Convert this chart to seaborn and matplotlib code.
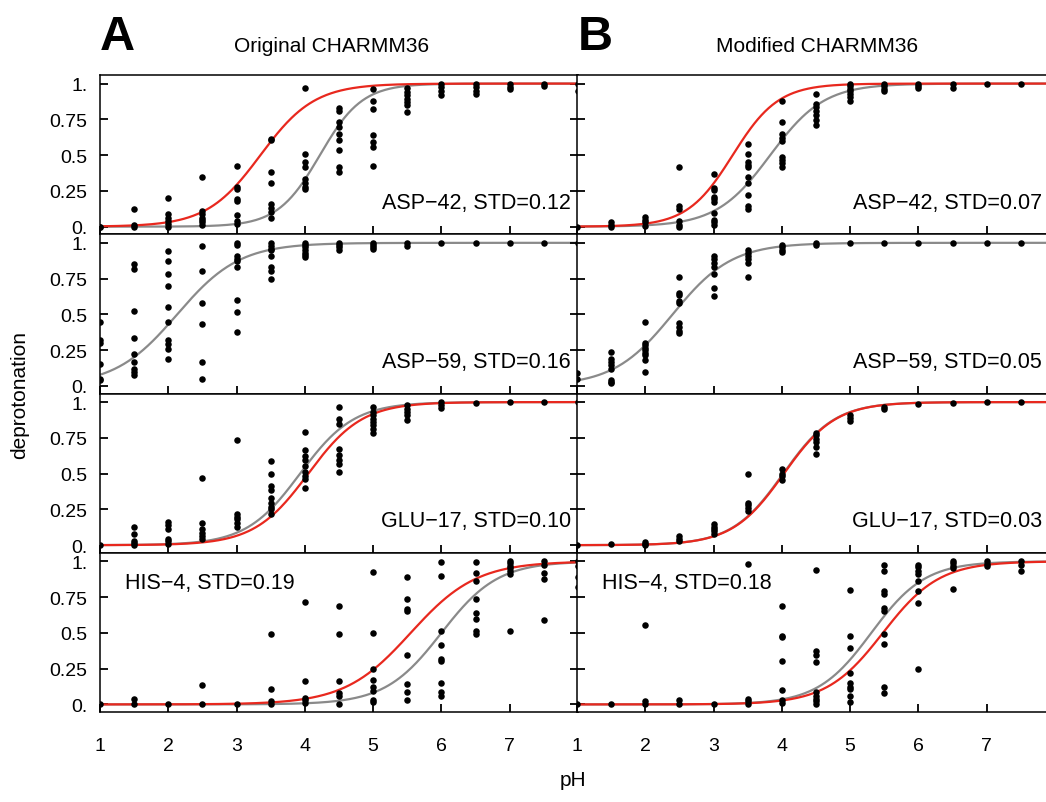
import numpy as np
import pandas as pd
import matplotlib
matplotlib.use("Agg")
import matplotlib.pyplot as plt
import seaborn as sns

# pH values sampled by the constant-pH replicas
ph_levels = [1.0, 1.5, 2.0, 2.5, 3.0, 3.5, 4.0, 4.5, 5.0, 5.5, 6.0, 6.5, 7.0, 7.5, 8.0]

# Per-replica deprotonation fractions, one inner list per pH level
asp42_orig = [
    [0.0, 0.0], [0.12, 0.01, 0.0], [0.20, 0.09, 0.06, 0.04, 0.02, 0.0],
    [0.35, 0.11, 0.09, 0.06, 0.045, 0.03, 0.01],
    [0.425, 0.28, 0.265, 0.195, 0.18, 0.085, 0.04, 0.02],
    [0.615, 0.605, 0.385, 0.305, 0.155, 0.13, 0.10, 0.06],
    [0.97, 0.51, 0.45, 0.42, 0.33, 0.305, 0.28, 0.26],
    [0.83, 0.81, 0.73, 0.70, 0.65, 0.605, 0.535, 0.415, 0.385],
    [0.96, 0.88, 0.82, 0.64, 0.59, 0.555, 0.425],
    [0.97, 0.94, 0.92, 0.895, 0.87, 0.85, 0.80],
    [1.0, 0.975, 0.95, 0.92], [1.0, 0.975, 0.95, 0.93],
    [1.0, 0.975, 0.965], [1.0, 0.985], [1.0, 0.95],
]
asp42_mod = [
    [0.0], [0.03, 0.01, 0.0], [0.07, 0.05, 0.03, 0.005],
    [0.415, 0.145, 0.12, 0.04, 0.015, 0.0],
    [0.367, 0.27, 0.255, 0.21, 0.19, 0.17, 0.097, 0.05, 0.03, 0.015],
    [0.58, 0.51, 0.455, 0.43, 0.415, 0.35, 0.305, 0.22, 0.145, 0.125],
    [0.875, 0.73, 0.645, 0.62, 0.60, 0.49, 0.465, 0.445, 0.415],
    [0.93, 0.86, 0.835, 0.81, 0.78, 0.745, 0.71],
    [1.0, 0.98, 0.96, 0.945, 0.93, 0.905, 0.88],
    [1.0, 0.98, 0.965, 0.945], [1.0, 0.98, 0.97], [1.0, 0.97],
    [1.0], [1.0], [],
]
asp59_orig = [
    [0.45, 0.32, 0.30, 0.155, 0.05, 0.04],
    [0.85, 0.82, 0.525, 0.335, 0.22, 0.17, 0.115, 0.097, 0.076],
    [0.945, 0.87, 0.785, 0.695, 0.55, 0.45, 0.32, 0.29, 0.255, 0.185],
    [0.98, 0.80, 0.58, 0.43, 0.165, 0.05],
    [1.0, 0.985, 0.905, 0.89, 0.87, 0.83, 0.60, 0.515, 0.38],
    [1.0, 0.98, 0.96, 0.95, 0.905, 0.83, 0.80, 0.75],
    [1.0, 0.985, 0.97, 0.95, 0.93, 0.915, 0.90],
    [1.0, 0.985, 0.97, 0.95], [1.0, 0.985, 0.97, 0.955], [1.0, 0.975],
    [1.0], [1.0], [1.0], [1.0], [1.0],
]
asp59_mod = [
    [0.09, 0.05],
    [0.237, 0.19, 0.17, 0.145, 0.12, 0.04, 0.03, 0.02],
    [0.45, 0.30, 0.283, 0.267, 0.25, 0.23, 0.215, 0.18, 0.095],
    [0.763, 0.65, 0.633, 0.595, 0.58, 0.44, 0.41, 0.385, 0.37],
    [0.905, 0.885, 0.86, 0.83, 0.78, 0.687, 0.625],
    [0.95, 0.93, 0.905, 0.885, 0.86, 0.76],
    [0.985, 0.97, 0.95, 0.935], [1.0, 0.985],
    [1.0], [1.0], [1.0], [1.0], [1.0], [1.0], [],
]
glu17_orig = [
    [0.0], [0.125, 0.075, 0.032, 0.016, 0.0],
    [0.16, 0.14, 0.115, 0.046, 0.028, 0.01],
    [0.47, 0.155, 0.11, 0.085, 0.062, 0.04],
    [0.735, 0.22, 0.195, 0.18, 0.155, 0.13],
    [0.59, 0.50, 0.415, 0.387, 0.333, 0.294, 0.27, 0.25, 0.218],
    [0.79, 0.665, 0.62, 0.595, 0.555, 0.514, 0.486, 0.463, 0.40],
    [0.965, 0.885, 0.85, 0.67, 0.63, 0.595, 0.57, 0.51],
    [0.965, 0.93, 0.907, 0.885, 0.86, 0.84, 0.815, 0.785],
    [0.977, 0.955, 0.93, 0.907, 0.873],
    [1.0, 0.977, 0.96], [0.995], [1.0], [1.0], [1.0],
]
glu17_mod = [
    [0.0], [0.005], [0.023, 0.01, 0.0], [0.062, 0.046, 0.028],
    [0.148, 0.13, 0.115, 0.097, 0.08],
    [0.50, 0.294, 0.278, 0.26, 0.24],
    [0.532, 0.50, 0.48, 0.456],
    [0.787, 0.77, 0.745, 0.722, 0.687, 0.64],
    [0.907, 0.89, 0.868], [0.965, 0.95], [0.99], [0.995], [1.0], [1.0], [],
]
his4_orig = [
    [0.0], [0.04, 0.0], [0.0], [0.137, 0.005], [0.005],
    [0.49, 0.11, 0.023, 0.005],
    [0.715, 0.167, 0.046, 0.028, 0.01],
    [0.685, 0.49, 0.167, 0.08, 0.062, 0.005],
    [0.925, 0.50, 0.25, 0.17, 0.12, 0.097, 0.032, 0.016],
    [0.89, 0.735, 0.665, 0.653, 0.345, 0.14, 0.085, 0.032],
    [0.995, 0.895, 0.51, 0.417, 0.317, 0.305, 0.148, 0.085, 0.062],
    [0.995, 0.92, 0.866, 0.735, 0.64, 0.595, 0.514, 0.495],
    [1.0, 0.985, 0.97, 0.955, 0.935, 0.912, 0.51],
    [1.0, 0.977, 0.92, 0.875, 0.59],
    [1.0, 0.965, 0.89, 0.82],
]
his4_mod = [
    [0.0], [0.0], [0.555, 0.023, 0.005], [0.032, 0.005], [0.005],
    [0.984, 0.04, 0.023, 0.005],
    [0.687, 0.48, 0.468, 0.305, 0.10, 0.032, 0.01],
    [0.942, 0.37, 0.347, 0.294, 0.085, 0.062, 0.04, 0.023, 0.005],
    [0.803, 0.48, 0.393, 0.22, 0.148, 0.125, 0.11, 0.062, 0.016],
    [0.977, 0.935, 0.79, 0.775, 0.676, 0.653, 0.49, 0.42, 0.12, 0.08],
    [0.977, 0.96, 0.935, 0.912, 0.866, 0.796, 0.71, 0.25],
    [1.0, 0.99, 0.965, 0.95, 0.81],
    [1.0, 0.98, 0.965], [1.0, 0.977, 0.935], [],
]

residues = ["ASP−42", "ASP−59", "GLU−17", "HIS−4"]
std_orig = [0.12, 0.16, 0.10, 0.19]
std_mod = [0.07, 0.05, 0.03, 0.18]

# Henderson-Hasselbalch parameters (pKa, Hill coefficient); NaN = no curve
pka_red_orig = [3.35, np.nan, 4.05, 5.55]
hill_red_orig = [1.1, np.nan, 1.1, 0.9]
pka_grey_orig = [4.22, 2.13, 3.93, 6.00]
hill_grey_orig = [1.4, 0.95, 1.1, 1.05]
pka_red_mod = [3.28, np.nan, 4.03, 5.48]
hill_red_mod = [1.3, np.nan, 1.15, 1.05]
pka_grey_mod = [3.83, 2.40, 4.02, 5.31]
hill_grey_mod = [1.1, 1.0, 1.15, 1.1]

ytick_vals = [0.0, 0.25, 0.5, 0.75, 1.0]
ytick_labels = ["0.", "0.25", "0.5", "0.75", "1."]
xtick_vals = [1, 2, 3, 4, 5, 6, 7]

RED = "#e8281e"
GREY = "#8a8a8a"

sns.set_style("ticks")
plt.rcParams["font.family"] = ["Liberation Sans", "DejaVu Sans"]
plt.rcParams["axes.linewidth"] = 1.1
plt.rcParams["axes.axisbelow"] = False
plt.rcParams["xtick.direction"] = "in"
plt.rcParams["ytick.direction"] = "in"
for key in ["text.color", "axes.labelcolor", "xtick.color", "ytick.color", "axes.edgecolor"]:
    plt.rcParams[key] = "black"

TICK_LEN = 6.0
TICK_W = 1.3


def points_frame(values):
    rows = [(ph, v) for ph, vals in zip(ph_levels, values) for v in vals]
    return pd.DataFrame(rows, columns=["pH", "deprotonation"])


def hh_frame(pka, hill):
    ph = np.linspace(1.0, 8.0, 400)
    frac = 1.0 / (1.0 + 10.0 ** (hill * (pka - ph)))
    return pd.DataFrame({"pH": ph, "frac": frac})


fig = plt.figure(figsize=(10.46, 8.03), dpi=100)

W, H = 1046.0, 803.0
top_px, row_px = 76.0, 159.25
col_left_px = [100.0, 577.0]
col_w_px = 478.0

columns = [
    dict(points=[asp42_orig, asp59_orig, glu17_orig, his4_orig], std=std_orig,
         red=(pka_red_orig, hill_red_orig), grey=(pka_grey_orig, hill_grey_orig),
         label_x=0.985),
    dict(points=[asp42_mod, asp59_mod, glu17_mod, his4_mod], std=std_mod,
         red=(pka_red_mod, hill_red_mod), grey=(pka_grey_mod, hill_grey_mod),
         label_x=0.973),
]

for c, col in enumerate(columns):
    for r in range(4):
        bottom_px = top_px + (r + 1) * row_px
        ax = fig.add_axes([col_left_px[c] / W, (H - bottom_px) / H,
                           col_w_px / W, row_px / H])
        grey_pka, grey_n = col["grey"][0][r], col["grey"][1][r]
        red_pka, red_n = col["red"][0][r], col["red"][1][r]
        if not np.isnan(grey_pka):
            sns.lineplot(data=hh_frame(grey_pka, grey_n), x="pH", y="frac", ax=ax,
                         color=GREY, linewidth=1.6, zorder=2)
        if not np.isnan(red_pka):
            sns.lineplot(data=hh_frame(red_pka, red_n), x="pH", y="frac", ax=ax,
                         color=RED, linewidth=1.6, zorder=3)
        sns.scatterplot(data=points_frame(col["points"][r]), x="pH", y="deprotonation",
                        ax=ax, color="black", s=22, linewidth=0, zorder=4)

        ax.set_xlim(1.0, 8.0)
        ax.set_ylim(-0.053, 1.06)
        ax.set_xlabel("")
        ax.set_ylabel("")
        ax.set_xticks(xtick_vals)
        ax.set_yticks(ytick_vals)
        ax.set_xticklabels([str(v) for v in xtick_vals] if r == 3 else [])
        ax.set_yticklabels(ytick_labels if c == 0 else [])
        ax.xaxis.set_tick_params(which="major", direction="in", length=TICK_LEN,
                                 width=TICK_W, color="black", labelsize=14, pad=18,
                                 bottom=True, top=False, labeltop=False)
        ax.yaxis.set_tick_params(which="major", direction="in", length=TICK_LEN,
                                 width=TICK_W, color="black", labelsize=14, pad=9,
                                 left=True, right=True, labelright=False)
        for sp in ax.spines.values():
            sp.set_visible(True)
            sp.set_color("black")
            sp.set_linewidth(1.1)

        label = f"{residues[r]}, STD={col['std'][r]:.2f}"
        if residues[r].startswith("HIS"):
            ax.text(1.37, 0.85, label, ha="left", va="center", fontsize=15.5)
        else:
            ax.text(col["label_x"], 0.17, label, ha="right", va="center",
                    fontsize=15.5, transform=ax.get_yaxis_transform())

fig.text(100 / W, 1 - 38 / H, "A", fontsize=35, fontweight="bold", ha="left", va="center")
fig.text(578 / W, 1 - 38 / H, "B", fontsize=35, fontweight="bold", ha="left", va="center")
fig.text(332 / W, 1 - 47 / H, "Original CHARMM36", fontsize=15, ha="center", va="center")
fig.text(817 / W, 1 - 47 / H, "Modified CHARMM36", fontsize=15, ha="center", va="center")
fig.text(20 / W, 1 - 395 / H, "deprotonation", fontsize=15, rotation=90,
         ha="center", va="center")
fig.text(573 / W, 1 - 781 / H, "pH", fontsize=15, ha="center", va="center")

fig.savefig("out.png", dpi=100)
